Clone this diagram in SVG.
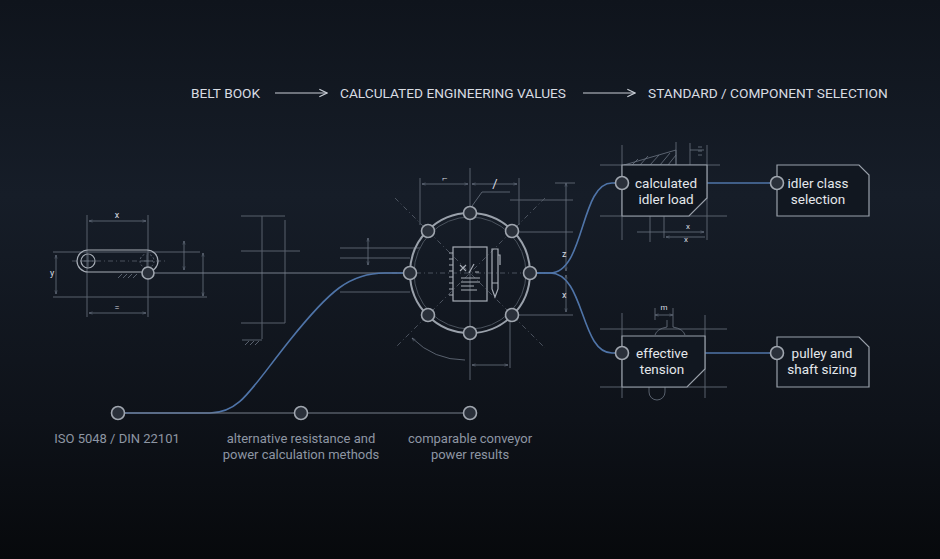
<svg xmlns="http://www.w3.org/2000/svg" width="940" height="559" viewBox="0 0 940 559">
<defs>
<linearGradient id="bg" x1="0" y1="0" x2="0" y2="1">
<stop offset="0" stop-color="#0f141c"/><stop offset="0.35" stop-color="#161d28"/><stop offset="0.75" stop-color="#0e1219"/><stop offset="1" stop-color="#07090c"/>
</linearGradient>
<marker id="ar" viewBox="0 0 10 10" refX="9" refY="5" markerWidth="8" markerHeight="8" orient="auto"><path d="M1,1 L9,5 L1,9" fill="none" stroke="#c9ced6" stroke-width="1.2"/></marker>
<marker id="da" viewBox="0 0 10 10" refX="9" refY="5" markerWidth="5" markerHeight="5" orient="auto-start-reverse"><path d="M0,2 L9,5 L0,8" fill="none" stroke="#7a8494" stroke-width="1"/></marker>
</defs>
<style>
.t{font-family:Roboto,"Liberation Sans",sans-serif;fill:#d8dce2}
.h{font-size:13.7px}
.n{font-size:13.5px;text-anchor:middle;fill:#e4e7eb}
.b{font-size:13px;text-anchor:middle;fill:#8d96a3}
.c{fill:none;stroke:#59616d;stroke-width:1}
.d{fill:none;stroke:#59616d;stroke-width:0.8;stroke-dasharray:5 3 1 3}
.m{fill:none;stroke:#6b7482;stroke-width:0.8}
.w{fill:none;stroke:#a7adb6;stroke-width:1.2}
.bl{fill:none;stroke:#4f74a8;stroke-width:1.6}
.g{fill:none;stroke:#767f8b;stroke-width:1}
.nd{fill:#2a303a;stroke:#a0a6af;stroke-width:1.6}
.box{fill:#111720;stroke:#9aa1ab;stroke-width:1.2}
</style>
<rect width="940" height="559" fill="url(#bg)"/>
<g id="header">
<text class="t h" x="191" y="98">BELT BOOK</text>
<line x1="275" y1="93" x2="327" y2="93" stroke="#c9ced6" stroke-width="1.2" marker-end="url(#ar)"/>
<text class="t h" x="340" y="98">CALCULATED ENGINEERING VALUES</text>
<line x1="583" y1="93" x2="635" y2="93" stroke="#c9ced6" stroke-width="1.2" marker-end="url(#ar)"/>
<text class="t h" x="648" y="98">STANDARD / COMPONENT SELECTION</text>
</g>
<g id="construction">
<line class="c" x1="53" y1="252" x2="200" y2="252"/><line class="c" x1="53" y1="297" x2="207" y2="297"/>
<line class="m" x1="56" y1="255" x2="56" y2="294" marker-start="url(#da)" marker-end="url(#da)"/>
<text class="t" x="50" y="276" font-size="9" fill="#7a8494">y</text>
<line class="c" x1="87" y1="215" x2="87" y2="317"/><line class="c" x1="148" y1="215" x2="148" y2="317"/>
<line class="m" x1="89" y1="221" x2="146" y2="221" marker-start="url(#da)" marker-end="url(#da)"/>
<text class="t" x="117" y="218" font-size="9" fill="#7a8494" text-anchor="middle">x</text>
<line class="m" x1="89" y1="313" x2="146" y2="313" marker-start="url(#da)" marker-end="url(#da)"/>
<text class="t" x="117" y="311" font-size="9" fill="#7a8494" text-anchor="middle">=</text>
<line class="d" x1="72" y1="261" x2="165" y2="261"/>
<line class="m" x1="184" y1="241" x2="184" y2="270" marker-start="url(#da)" marker-end="url(#da)"/>
<line class="m" x1="203" y1="253" x2="203" y2="296" marker-start="url(#da)" marker-end="url(#da)"/>
<path class="m" d="M118,278 l4,-4 M123,278 l4,-4 M128,278 l4,-4 M133,278 l4,-4"/>
<line class="c" x1="241" y1="216" x2="285" y2="216"/><line class="c" x1="241" y1="251" x2="300" y2="251"/>
<line class="c" x1="241" y1="323" x2="285" y2="323"/><line class="c" x1="262" y1="216" x2="262" y2="339"/>
<line class="c" x1="285" y1="220" x2="285" y2="323"/>
<path class="m" d="M242,340 h20 M245,345 l4,-4 M250,345 l4,-4 M255,345 l4,-4"/>
<line class="c" x1="340" y1="248" x2="420" y2="248"/><line class="c" x1="340" y1="258" x2="410" y2="258"/>
<line class="c" x1="340" y1="292" x2="410" y2="292"/>
<line class="m" x1="368" y1="238" x2="368" y2="265" marker-start="url(#da)" marker-end="url(#da)"/>
<line class="c" x1="420" y1="178" x2="420" y2="225"/><line class="c" x1="470" y1="168" x2="470" y2="380"/>
<line class="c" x1="519" y1="178" x2="519" y2="225"/>
<line class="m" x1="422" y1="184" x2="468" y2="184" marker-start="url(#da)" marker-end="url(#da)"/>
<line class="m" x1="472" y1="184" x2="517" y2="184" marker-start="url(#da)" marker-end="url(#da)"/>
<text class="t" x="445" y="181" font-size="9" fill="#7a8494" text-anchor="middle">⌐</text>
<text class="t" x="495" y="188" font-size="13" fill="#9aa1ab" text-anchor="middle">/</text>
<path class="m" d="M472,206 l10,-14 h28"/>
<path class="d" d="M470,273 m-78,0 h156 M470,273 m-75,-75 l150,150 M470,273 m75,-75 l-150,150"/>
<line class="c" x1="510" y1="200" x2="573" y2="200"/><line class="c" x1="510" y1="232" x2="573" y2="232"/><line class="c" x1="512" y1="315" x2="573" y2="315"/>
<line class="m" x1="566" y1="183" x2="566" y2="271" marker-start="url(#da)" marker-end="url(#da)"/>
<line class="m" x1="566" y1="275" x2="566" y2="312" marker-start="url(#da)" marker-end="url(#da)"/>
<line class="c" x1="555" y1="183" x2="575" y2="183"/>
<text class="t" x="562" y="257" font-size="9" fill="#7a8494">z</text><text class="t" x="562" y="298" font-size="9" fill="#7a8494">x</text>
<path class="m" d="M412,338 A75,75 0 0 0 465,360" marker-start="url(#da)"/>
<line class="c" x1="510" y1="320" x2="510" y2="368"/>
<line class="m" x1="472" y1="365" x2="508" y2="365" marker-start="url(#da)" marker-end="url(#da)"/>
<line class="c" x1="600" y1="165" x2="720" y2="165"/><line class="c" x1="600" y1="216" x2="727" y2="216"/>
<line class="c" x1="622" y1="145" x2="622" y2="240"/><line class="c" x1="707" y1="145" x2="707" y2="240"/>
<line class="c" x1="676" y1="142" x2="676" y2="165"/><line class="c" x1="690" y1="143" x2="690" y2="165"/>
<path class="m" d="M624,165 L676,150 V165 Z M632,165 l6,-6 M640,165 l8,-9 M650,165 l9,-10 M660,165 l10,-12 M668,165 l8,-10"/>
<path class="m" d="M690,150 h14 M698,147 h4 M698,151 h4 M698,155 h4"/>
<line class="c" x1="650" y1="216" x2="650" y2="242"/><line class="c" x1="664" y1="216" x2="664" y2="238"/>
<line class="m" x1="637" y1="232" x2="704" y2="232" marker-end="url(#da)"/>
<line class="m" x1="666" y1="237" x2="705" y2="237" marker-start="url(#da)"/>
<text class="t" x="686" y="229" font-size="8" fill="#7a8494">x</text><text class="t" x="684" y="242" font-size="8" fill="#7a8494">x</text>
<line class="c" x1="600" y1="329" x2="727" y2="329"/><line class="c" x1="600" y1="387" x2="727" y2="387"/>
<line class="c" x1="622" y1="313" x2="622" y2="398"/><line class="c" x1="705" y1="315" x2="705" y2="398"/>
<path class="m" d="M655,335 a18,10 0 0 1 12,-8 v-7 M685,335 a18,10 0 0 0 -12,-8 v-7"/>
<line class="m" x1="655" y1="315" x2="673" y2="315" marker-start="url(#da)" marker-end="url(#da)"/>
<line class="c" x1="655" y1="308" x2="655" y2="320"/><line class="c" x1="673" y1="308" x2="673" y2="320"/>
<text class="t" x="664" y="310" font-size="8" fill="#7a8494" text-anchor="middle">m</text>
<path class="m" d="M649,387 v5 a8,8 0 0 0 16,0 v-5"/>
</g>
<g id="connectors">
<line class="g" x1="148" y1="273" x2="410" y2="273"/>
<path class="bl" d="M118,413 H210 C240,413 250,390 290,340 C330,290 350,273 385,273 H410"/>
<line class="g" x1="118" y1="413" x2="470" y2="413"/>
<path class="bl" d="M530,273 H550 C585,273 580,183 612,183 H622"/>
<path class="bl" d="M530,273 H550 C585,273 580,353 612,353 H622"/>
<line class="bl" x1="707" y1="183" x2="777" y2="183"/>
<line class="bl" x1="705" y1="353" x2="777" y2="353"/>
</g>
<g id="belt-book">
<rect x="77" y="250" width="81" height="22" rx="11" class="w"/>
<circle cx="88" cy="261" r="7" class="w"/><path class="m" d="M82,261 h12 M88,255 v12"/>
<circle cx="147" cy="261" r="7" class="m" stroke-dasharray="2 2"/><path class="m" d="M141,261 h12 M147,255 v12"/>
<circle cx="148" cy="273" r="6" class="nd"/>
</g>
<g id="calc-hub">
<circle cx="470" cy="273" r="60" fill="none" stroke="#9aa1ab" stroke-width="2"/>
<circle cx="470" cy="273" r="56" fill="none" stroke="#4a525d" stroke-width="1"/>
<circle cx="470" cy="213" r="6.5" class="nd"/><circle cx="470" cy="333" r="6.5" class="nd"/>
<circle cx="410" cy="273" r="6.5" class="nd"/><circle cx="530" cy="273" r="6.5" class="nd"/>
<circle cx="428" cy="231" r="6.5" class="nd"/><circle cx="512" cy="231" r="6.5" class="nd"/>
<circle cx="428" cy="315" r="6.5" class="nd"/><circle cx="512" cy="315" r="6.5" class="nd"/>
<rect x="453" y="247" width="34" height="54" fill="#141a23" class="w"/>
<path class="w" d="M449,253 h4 M449,259 h4 M449,265 h4 M449,271 h4 M449,277 h4 M449,283 h4 M449,289 h4 M449,295 h4"/>
<path class="w" d="M460,265 l6,6 M466,265 l-6,6 M474,264 l-5,9 M475,272 h4 M461,278 h19 M461,282 h19 M461,286 h13 M461,290 h16"/>
<path class="w" d="M492,249 h6 v40 l-3,8 l-3,-8 Z M492,283 h6 M498,255 h2 v10"/>
</g>
<g id="idler-load">
<path class="box" d="M622,165 H707 V198 L689,216 H622 Z"/>
<circle cx="622" cy="183" r="6.5" class="nd"/>
<text class="t n" x="666" y="188">calculated</text><text class="t n" x="666" y="204">idler load</text>
</g>
<g id="idler-class">
<path class="box" d="M777,165 H859 L869,175 V216 H777 Z"/>
<circle cx="777" cy="183" r="6.5" class="nd"/>
<text class="t n" x="818" y="188">idler class</text><text class="t n" x="818" y="204">selection</text>
</g>
<g id="effective-tension">
<path class="box" d="M622,336 H705 V369 L687,387 H622 Z"/>
<circle cx="622" cy="353" r="6.5" class="nd"/>
<text class="t n" x="662" y="358">effective</text><text class="t n" x="662" y="374">tension</text>
</g>
<g id="pulley">
<path class="box" d="M777,337 H859 L869,347 V387 H777 Z"/>
<circle cx="777" cy="353" r="6.5" class="nd"/>
<text class="t n" x="822" y="358">pulley and</text><text class="t n" x="822" y="374">shaft sizing</text>
</g>
<g id="sources">
<circle cx="118" cy="413" r="6.5" class="nd"/><circle cx="301" cy="413" r="6.5" class="nd"/><circle cx="470" cy="413" r="6.5" class="nd"/>
<text class="t b" x="117" y="443">ISO 5048 / DIN 22101</text>
<text class="t b" x="301" y="443">alternative resistance and</text><text class="t b" x="301" y="459">power calculation methods</text>
<text class="t b" x="470" y="443">comparable conveyor</text><text class="t b" x="470" y="459">power results</text>
</g>
</svg>
